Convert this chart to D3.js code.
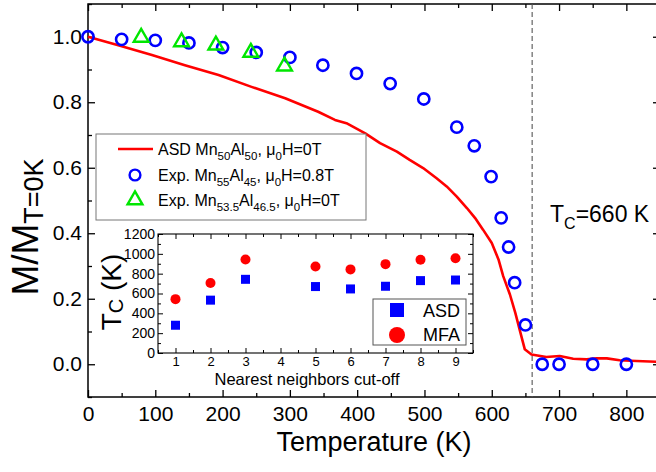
<!DOCTYPE html>
<html>
<head>
<meta charset="utf-8">
<script src="https://cdn.jsdelivr.net/npm/d3@7"></script>
<style>
html,body{margin:0;padding:0;background:#fff;}
svg{display:block;font-family:"Liberation Sans",Arial,sans-serif;}
</style>
</head>
<body>
<svg id="chart" width="656" height="472"></svg>
<script>
// ---- data ----
const asdTemp = [0,45,95,144,194,243,293,342,367,384,412,434,459,478,498,518,533,548,563,575,587,600,610,617,627,635,642,649,659,681,701,721,741,756,771,790,815,850];
const asdM    = [1.0,0.974,0.944,0.913,0.883,0.847,0.812,0.771,0.746,0.736,0.705,0.675,0.649,0.624,0.599,0.568,0.543,0.512,0.477,0.447,0.411,0.370,0.320,0.269,0.213,0.157,0.101,0.046,0.030,0.022,0.025,0.017,0.015,0.018,0.018,0.012,0.010,0.007];
const exp55Temp = [0,50,100,150,200,250,300,349,399,449,499,548,574,599,614,625,634,650,675,700,750,800];
const exp55M    = [1.0,0.992,0.989,0.981,0.967,0.952,0.937,0.913,0.888,0.857,0.81,0.724,0.667,0.573,0.447,0.358,0.249,0.12,0.0,0.0,0.0,0.0];
const exp535Temp = [79,139,190,242,292];
const exp535M    = [0.998,0.984,0.974,0.952,0.910];
const xTicks = [0,100,200,300,400,500,600,700,800];
const xMinor = [50,150,250,350,450,550,650,750,850];
const yTicks = [0.0,0.2,0.4,0.6,0.8,1.0];
const yMinor = [-0.1,0.1,0.3,0.5,0.7,0.9,1.1];
const curieT = 660;

const cutoffs = [1,2,3,5,6,7,8,9];
const tcASD = [280,533,743,670,646,673,730,736];
const tcMFA = [543,706,943,873,843,896,940,956];
const insetXTicks = [1,2,3,4,5,6,7,8,9];
const insetXMinor = [0.5,1.5,2.5,3.5,4.5,5.5,6.5,7.5,8.5,9.5];
const insetYTicks = [0,200,400,600,800,1000,1200];
const insetYMinor = [100,300,500,700,900,1100];

// ---- main ----
const svg = d3.select("#chart");
const RED="#ff0000", BLUE="#0000ff", GREEN="#00e600";
const x = d3.scaleLinear().domain([0,850]).range([88,660]);
const y = d3.scaleLinear().domain([-0.1,1.1]).range([397,4]);
const X0=88, X1=660, Y0=397, Y1=4;

function styleAxis(g, fs){
  g.select(".domain").remove();
  g.selectAll("line").attr("stroke","#000").attr("stroke-width",1.3);
  g.selectAll("text").attr("font-size",fs).attr("fill","#000").attr("font-family","Liberation Sans, Arial, sans-serif");
}
// axes
svg.append("g").attr("transform",`translate(0,${Y0})`)
  .call(d3.axisBottom(x).tickValues(xTicks).tickSize(-7).tickSizeOuter(0).tickPadding(9).tickFormat(d3.format("d")))
  .call(g=>styleAxis(g,21));
svg.append("g").attr("transform",`translate(0,${Y0})`)
  .call(d3.axisBottom(x).tickValues(xMinor).tickSize(-4).tickSizeOuter(0).tickFormat(""))
  .call(g=>styleAxis(g,21));
svg.append("g").attr("transform",`translate(0,${Y1})`)
  .call(d3.axisTop(x).tickValues(xTicks).tickSize(-7).tickSizeOuter(0).tickFormat(""))
  .call(g=>styleAxis(g,21));
svg.append("g").attr("transform",`translate(0,${Y1})`)
  .call(d3.axisTop(x).tickValues(xMinor).tickSize(-4).tickSizeOuter(0).tickFormat(""))
  .call(g=>styleAxis(g,21));
svg.append("g").attr("transform",`translate(${X0},0)`)
  .call(d3.axisLeft(y).tickValues(yTicks).tickSize(-7).tickSizeOuter(0).tickPadding(6).tickFormat(d3.format(".1f")))
  .call(g=>styleAxis(g,21));
svg.append("g").attr("transform",`translate(${X0},0)`)
  .call(d3.axisLeft(y).tickValues(yMinor).tickSize(-4).tickSizeOuter(0).tickFormat(""))
  .call(g=>styleAxis(g,21));
svg.append("g").attr("transform",`translate(${X1},0)`)
  .call(d3.axisRight(y).tickValues(yTicks).tickSize(-7).tickSizeOuter(0).tickFormat(""))
  .call(g=>styleAxis(g,21));
svg.append("g").attr("transform",`translate(${X1},0)`)
  .call(d3.axisRight(y).tickValues(yMinor).tickSize(-4).tickSizeOuter(0).tickFormat(""))
  .call(g=>styleAxis(g,21));
svg.append("rect").attr("x",X0).attr("y",Y1).attr("width",X1-X0).attr("height",Y0-Y1)
  .attr("fill","none").attr("stroke","#000").attr("stroke-width",1.5);

// Tc dashed line
svg.append("line").attr("x1",x(curieT)).attr("x2",x(curieT)).attr("y1",Y1).attr("y2",Y0)
  .attr("stroke","#555").attr("stroke-width",1.1).attr("stroke-dasharray","5,3");

// ASD line
svg.append("path").datum(asdTemp.map((t,i)=>[t,asdM[i]]))
  .attr("d",d3.line().x(d=>x(d[0])).y(d=>y(d[1])))
  .attr("fill","none").attr("stroke",RED).attr("stroke-width",2.6).attr("stroke-linejoin","round");

// Exp circles
svg.append("g").selectAll("circle").data(exp55Temp.map((t,i)=>[t,exp55M[i]])).join("circle")
  .attr("cx",d=>x(d[0])).attr("cy",d=>y(d[1])).attr("r",5.6)
  .attr("fill","none").attr("stroke",BLUE).attr("stroke-width",2.6);
// Exp triangles
const tri = d3.symbol().type(d3.symbolTriangle).size(95);
svg.append("g").selectAll("path").data(exp535Temp.map((t,i)=>[t,exp535M[i]])).join("path")
  .attr("d",tri).attr("transform",d=>`translate(${x(d[0])},${y(d[1])})`)
  .attr("fill","none").attr("stroke",GREEN).attr("stroke-width",2.4).attr("stroke-linejoin","miter");

// axis titles
svg.append("text").attr("x",374).attr("y",451).attr("text-anchor","middle").attr("font-size",27).text("Temperature (K)");
const yl = svg.append("text").attr("transform","translate(38,227) rotate(-90)").attr("text-anchor","middle").attr("font-size",37);
yl.append("tspan").text("M/M");
yl.append("tspan").attr("font-size",27).attr("dy",5).text("T=0K");

// Tc label
const tcl = svg.append("text").attr("x",550).attr("y",222).attr("font-size",23);
tcl.append("tspan").text("T");
tcl.append("tspan").attr("font-size",16).attr("dy",7).text("C");
tcl.append("tspan").attr("dy",-7).text("=660 K");

// legend
const lg = svg.append("g");
lg.append("rect").attr("x",96).attr("y",134).attr("width",270).attr("height",86)
  .attr("fill","#fff").attr("stroke","#777").attr("stroke-width",1);
lg.append("line").attr("x1",118).attr("x2",153).attr("y1",149).attr("y2",149).attr("stroke",RED).attr("stroke-width",2.6);
lg.append("circle").attr("cx",135).attr("cy",175).attr("r",5.4).attr("fill","none").attr("stroke",BLUE).attr("stroke-width",2.4);
lg.append("path").attr("d",tri).attr("transform","translate(135,200)").attr("fill","none").attr("stroke",GREEN).attr("stroke-width",2.4);
function legText(yb, parts){
  const t = lg.append("text").attr("x",158).attr("y",yb).attr("font-size",16);
  let sub=false;
  parts.forEach(p=>{
    const s = t.append("tspan").text(p[0]);
    if(p[1] && !sub){ s.attr("font-size",11.5).attr("dy",5); sub=true; }
    else if(!p[1] && sub){ s.attr("dy",-5); sub=false; }
  });
}
legText(155,[["ASD Mn",0],["50",1],["Al",0],["50",1],[", μ",0],["0",1],["H=0T",0]]);
legText(181,[["Exp. Mn",0],["55",1],["Al",0],["45",1],[", μ",0],["0",1],["H=0.8T",0]]);
legText(206,[["Exp. Mn",0],["53.5",1],["Al",0],["46.5",1],[", μ",0],["0",1],["H=0T",0]]);

// ---- inset ----
const ix = d3.scaleLinear().domain([0.5,9.5]).range([158,473]);
const iy = d3.scaleLinear().domain([0,1200]).range([353,234]);
const IX0=158, IX1=473, IY0=353, IY1=234;
const ins = svg.append("g");
ins.append("rect").attr("x",IX0).attr("y",IY1).attr("width",IX1-IX0).attr("height",IY0-IY1).attr("fill","#fff");
function sa(g){ styleAxis(g,14); g.selectAll("line").attr("stroke-width",1); }
ins.append("g").attr("transform",`translate(0,${IY0})`)
  .call(d3.axisBottom(ix).tickValues(insetXTicks).tickSize(-5).tickSizeOuter(0).tickPadding(4).tickFormat(d3.format("d")))
  .call(g=>{sa(g); g.selectAll("text").attr("font-size",13);});
ins.append("g").attr("transform",`translate(0,${IY0})`)
  .call(d3.axisBottom(ix).tickValues(insetXMinor).tickSize(-3).tickSizeOuter(0).tickFormat("")).call(sa);
ins.append("g").attr("transform",`translate(0,${IY1})`)
  .call(d3.axisTop(ix).tickValues(insetXTicks).tickSize(-5).tickSizeOuter(0).tickFormat("")).call(sa);
ins.append("g").attr("transform",`translate(0,${IY1})`)
  .call(d3.axisTop(ix).tickValues(insetXMinor).tickSize(-3).tickSizeOuter(0).tickFormat("")).call(sa);
ins.append("g").attr("transform",`translate(${IX0},0)`)
  .call(d3.axisLeft(iy).tickValues(insetYTicks).tickSize(-5).tickSizeOuter(0).tickPadding(3).tickFormat(d3.format("d"))).call(sa);
ins.append("g").attr("transform",`translate(${IX0},0)`)
  .call(d3.axisLeft(iy).tickValues(insetYMinor).tickSize(-3).tickSizeOuter(0).tickFormat("")).call(sa);
ins.append("g").attr("transform",`translate(${IX1},0)`)
  .call(d3.axisRight(iy).tickValues(insetYTicks).tickSize(-5).tickSizeOuter(0).tickFormat("")).call(sa);
ins.append("g").attr("transform",`translate(${IX1},0)`)
  .call(d3.axisRight(iy).tickValues(insetYMinor).tickSize(-3).tickSizeOuter(0).tickFormat("")).call(sa);
ins.append("rect").attr("x",IX0).attr("y",IY1).attr("width",IX1-IX0).attr("height",IY0-IY1)
  .attr("fill","none").attr("stroke","#000").attr("stroke-width",1.1);

ins.append("g").selectAll("rect").data(cutoffs.map((c,i)=>[c,tcASD[i]])).join("rect")
  .attr("x",d=>ix(d[0])-4.5).attr("y",d=>iy(d[1])-4.5).attr("width",9).attr("height",9).attr("fill",BLUE);
ins.append("g").selectAll("circle").data(cutoffs.map((c,i)=>[c,tcMFA[i]])).join("circle")
  .attr("cx",d=>ix(d[0])).attr("cy",d=>iy(d[1])).attr("r",5).attr("fill",RED);

ins.append("text").attr("x",307).attr("y",385).attr("text-anchor","middle").attr("font-size",16.5).text("Nearest neighbors cut-off");
const itl = ins.append("text").attr("transform","translate(121,292) rotate(-90)").attr("text-anchor","middle").attr("font-size",28);
itl.append("tspan").text("T");
itl.append("tspan").attr("font-size",20).attr("dy",2).text("C");
itl.append("tspan").attr("dy",-2).text(" (K)");

// inset legend
ins.append("rect").attr("x",373).attr("y",299).attr("width",93).attr("height",46).attr("fill","#fff").attr("stroke","#555").attr("stroke-width",1);
ins.append("rect").attr("x",390).attr("y",303).attr("width",14).attr("height",14).attr("fill",BLUE);
ins.append("circle").attr("cx",397).attr("cy",335).attr("r",8).attr("fill",RED);
ins.append("text").attr("x",423).attr("y",317).attr("font-size",18).text("ASD");
ins.append("text").attr("x",423).attr("y",341).attr("font-size",18).text("MFA");
</script>
</body>
</html>
